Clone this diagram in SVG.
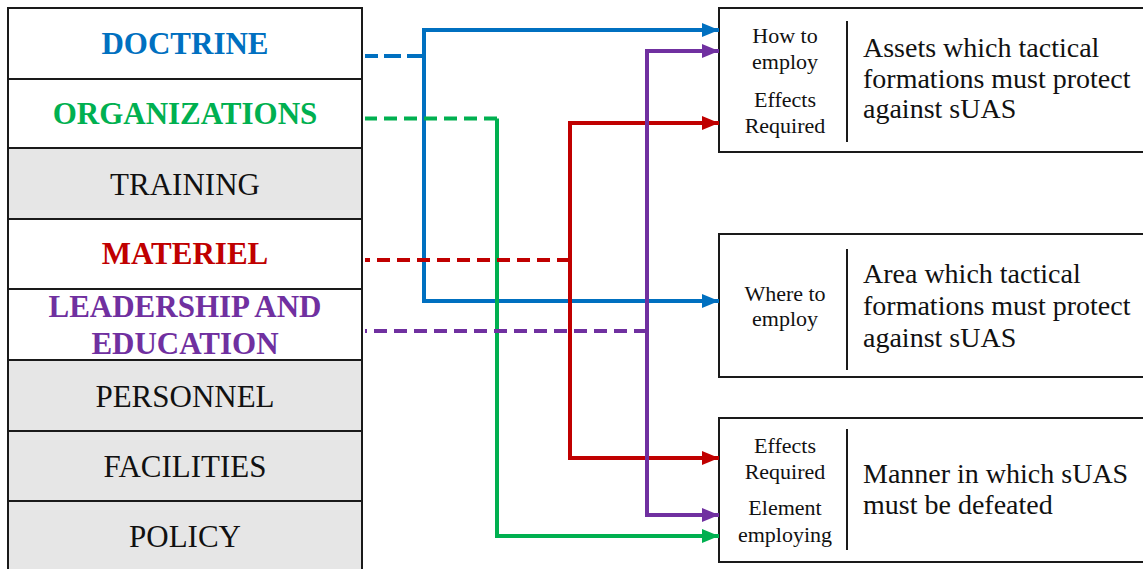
<svg xmlns="http://www.w3.org/2000/svg" width="1143" height="569" viewBox="0 0 1143 569">
<style>
.cell{stroke:#1a1a1a;stroke-width:2}
.w{fill:#ffffff}
.g{fill:#e6e6e6}
.lt{font-family:"Liberation Serif","Times New Roman",serif;font-size:31px;text-anchor:middle}
.b{font-weight:bold}
.k{fill:#111111}
.box{fill:#ffffff;stroke:#1a1a1a;stroke-width:2}
.div{stroke:#1a1a1a;stroke-width:2}
.sm{font-family:"Liberation Serif","Times New Roman",serif;font-size:22px;text-anchor:middle;fill:#111111}
.lg{font-family:"Liberation Serif","Times New Roman",serif;font-size:28px;fill:#111111}
.ln{fill:none;stroke-width:4}
.dash{stroke-dasharray:13 7}
.dashB{stroke-dasharray:17 6}
</style>
<defs>
<marker id="aB" markerUnits="userSpaceOnUse" markerWidth="17" markerHeight="14" refX="17" refY="7" orient="auto-start-reverse"><path d="M0,0 L17,7 L0,14 Z" fill="#0070c0"/></marker>
<marker id="aG" markerUnits="userSpaceOnUse" markerWidth="17" markerHeight="14" refX="17" refY="7" orient="auto-start-reverse"><path d="M0,0 L17,7 L0,14 Z" fill="#00b050"/></marker>
<marker id="aR" markerUnits="userSpaceOnUse" markerWidth="17" markerHeight="14" refX="17" refY="7" orient="auto-start-reverse"><path d="M0,0 L17,7 L0,14 Z" fill="#c00000"/></marker>
<marker id="aP" markerUnits="userSpaceOnUse" markerWidth="17" markerHeight="14" refX="17" refY="7" orient="auto-start-reverse"><path d="M0,0 L17,7 L0,14 Z" fill="#7030a0"/></marker>
</defs>
<rect width="1143" height="569" fill="#ffffff"/>

<g id="doctrine"><rect class="cell w" x="8" y="8" width="354" height="71"/><text class="lt b" x="185" y="54" fill="#0070c0">DOCTRINE</text></g>
<g id="organizations"><rect class="cell w" x="8" y="79" width="354" height="69"/><text class="lt b" x="185" y="124" fill="#00b050">ORGANIZATIONS</text></g>
<g id="training"><rect class="cell g" x="8" y="148" width="354" height="71"/><text class="lt k" x="185" y="195">TRAINING</text></g>
<g id="materiel"><rect class="cell w" x="8" y="219" width="354" height="70"/><text class="lt b" x="185" y="264" fill="#c00000">MATERIEL</text></g>
<g id="leadership"><rect class="cell w" x="8" y="289" width="354" height="71"/><text class="lt b" x="185" y="317" fill="#7030a0">LEADERSHIP AND</text><text class="lt b" x="185" y="354" fill="#7030a0">EDUCATION</text></g>
<g id="personnel"><rect class="cell g" x="8" y="360" width="354" height="71"/><text class="lt k" x="185" y="407">PERSONNEL</text></g>
<g id="facilities"><rect class="cell g" x="8" y="431" width="354" height="70"/><text class="lt k" x="185" y="477">FACILITIES</text></g>
<g id="policy"><rect class="cell g" x="8" y="501" width="354" height="80"/><text class="lt k" x="185" y="547">POLICY</text></g>

<g id="box-assets">
<rect class="box" x="719" y="8" width="440" height="144"/>
<line class="div" x1="847" y1="21" x2="847" y2="142"/>
<text class="sm" x="785" y="43">How to</text>
<text class="sm" x="785" y="69">employ</text>
<text class="sm" x="785" y="107">Effects</text>
<text class="sm" x="785" y="133">Required</text>
<text class="lg" x="863" y="57">Assets which tactical</text>
<text class="lg" x="863" y="88">formations must protect</text>
<text class="lg" x="863" y="118">against sUAS</text>
</g>
<g id="box-area">
<rect class="box" x="719" y="234" width="440" height="143"/>
<line class="div" x1="847" y1="249" x2="847" y2="370"/>
<text class="sm" x="785" y="301">Where to</text>
<text class="sm" x="785" y="326">employ</text>
<text class="lg" x="863" y="283">Area which tactical</text>
<text class="lg" x="863" y="315">formations must protect</text>
<text class="lg" x="863" y="347">against sUAS</text>
</g>
<g id="box-manner">
<rect class="box" x="719" y="418" width="440" height="144"/>
<line class="div" x1="847" y1="429" x2="847" y2="550"/>
<text class="sm" x="785" y="453">Effects</text>
<text class="sm" x="785" y="479">Required</text>
<text class="sm" x="785" y="515">Element</text>
<text class="sm" x="785" y="542">employing</text>
<text class="lg" x="863" y="483">Manner in which sUAS</text>
<text class="lg" x="863" y="514">must be defeated</text>
</g>

<g id="connectors">
<path class="ln dashB" stroke="#0070c0" d="M424,56 H365"/>
<path class="ln" stroke="#0070c0" d="M719,30 H424 V301 H719" marker-start="url(#aB)" marker-end="url(#aB)"/>
<path class="ln dash" stroke="#00b050" d="M497,118.5 H365"/>
<path class="ln" stroke="#00b050" d="M497,118.5 V536 H719" marker-end="url(#aG)"/>
<path class="ln dash" stroke="#c00000" d="M570,260 H365"/>
<path class="ln" stroke="#c00000" d="M719,123 H570 V458 H719" marker-start="url(#aR)" marker-end="url(#aR)"/>
<path class="ln dash" stroke="#7030a0" d="M647,331 H365"/>
<path class="ln" stroke="#7030a0" d="M719,51 H647 V515 H719" marker-start="url(#aP)" marker-end="url(#aP)"/>
</g>
</svg>
